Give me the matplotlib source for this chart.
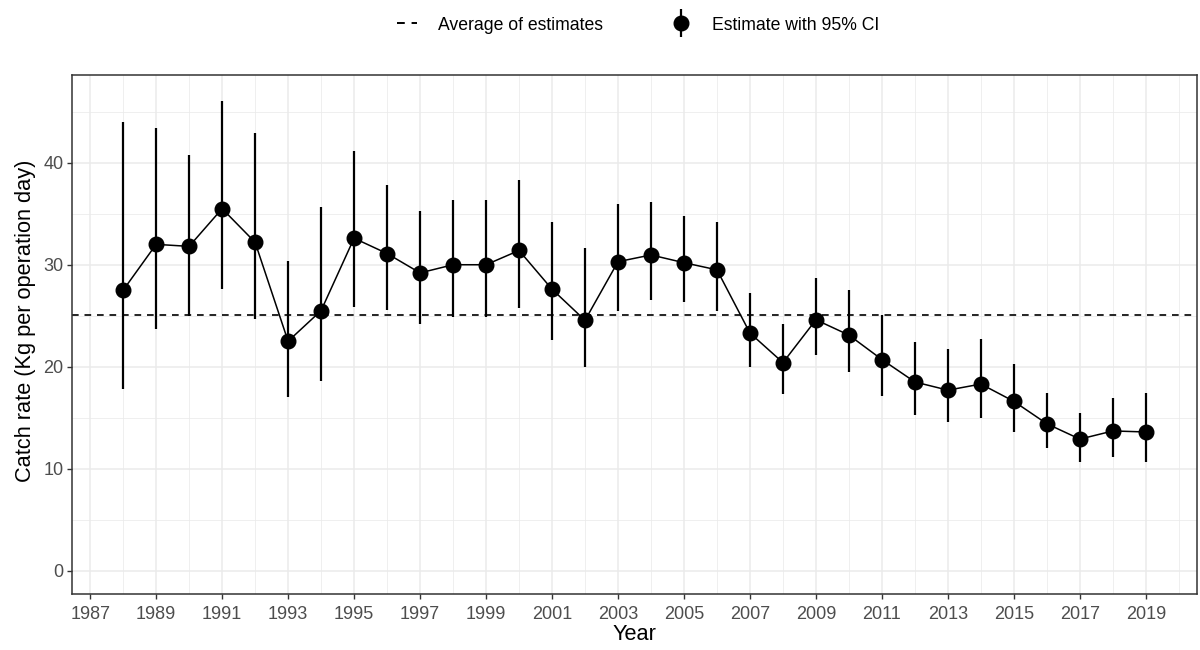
import numpy as np
import matplotlib.pyplot as plt
from matplotlib.lines import Line2D
from matplotlib.legend_handler import HandlerTuple
from matplotlib.ticker import MultipleLocator

plt.rcParams['font.family'] = ['Liberation Sans', 'DejaVu Sans']

# yearly catch-rate estimates with 95% confidence bounds
years = list(range(1988, 2020))
estimate = [27.5, 32.0, 31.8, 35.5, 32.2, 22.5, 25.5, 32.6, 31.1, 29.2, 30.0, 30.0,
            31.4, 27.6, 24.55, 30.3, 30.96, 30.2, 29.5, 23.3, 20.4, 24.6, 23.1, 20.7,
            18.5, 17.7, 18.3, 16.6, 14.4, 12.9, 13.7, 13.6]
lower = [17.8, 23.7, 25.0, 27.6, 24.65, 17.0, 18.6, 25.9, 25.6, 24.2, 24.9, 24.9,
         25.8, 22.6, 19.97, 25.5, 26.5, 26.3, 25.5, 20.0, 17.3, 21.1, 19.45, 17.1,
         15.3, 14.6, 14.96, 13.6, 12.0, 10.7, 11.1, 10.7]
upper = [44.0, 43.4, 40.8, 46.1, 42.9, 30.4, 35.7, 41.2, 37.8, 35.3, 36.3, 36.3,
         38.3, 34.2, 31.6, 36.0, 36.2, 34.8, 34.2, 27.2, 24.2, 28.7, 27.5, 25.04,
         22.4, 21.7, 22.7, 20.3, 17.4, 15.5, 16.9, 17.4]

est = np.array(estimate)
yerr = [est - np.array(lower), np.array(upper) - est]
avg = est.mean()

fig = plt.figure(figsize=(12, 6.5), dpi=100)
ax = fig.add_axes([0.06, 0.086, 0.9375, 0.7985])

ax.plot(years, est, color='black', lw=1.1, zorder=3)
ax.errorbar(years, est, yerr=yerr, fmt='o', color='black', ms=10.5,
            elinewidth=1.6, capsize=0, zorder=4)
ax.axhline(avg, color='black', ls=(0, (4, 3.5)), lw=1.2, zorder=2)

ax.set_xlim(1986.45, 2020.55)
ax.set_ylim(-2.3, 48.6)
ax.set_xticks(range(1987, 2020, 2))
ax.xaxis.set_minor_locator(MultipleLocator(1))
ax.yaxis.set_major_locator(MultipleLocator(10))
ax.yaxis.set_minor_locator(MultipleLocator(5))

ax.grid(which='major', color='#EBEBEB', lw=1.1, zorder=0)
ax.grid(which='minor', color='#EBEBEB', lw=0.55, zorder=0)
ax.set_axisbelow(True)
for s in ax.spines.values():
    s.set_color('#333333')
    s.set_linewidth(1.1)
ax.tick_params(which='major', length=3.5, width=1.0, color='#333333',
               labelcolor='#4D4D4D', labelsize=13)
ax.tick_params(axis='x', pad=5)
ax.tick_params(axis='y', pad=2.5)
ax.tick_params(which='minor', length=0)

ax.set_xlabel('Year', fontsize=15.7, labelpad=1)
ax.set_ylabel('Catch rate (Kg per operation day)', fontsize=15.7)
ax.yaxis.set_label_coords(-0.032, 0.526)

# legend keys: dashed line, and a point with a vertical interval through it
avg_key = Line2D([], [], color='black', ls=(0, (4, 3.5)), lw=1.4)
pt_key = (Line2D([], [], color='black', marker='|', ms=20, mew=1.6, ls='none'),
          Line2D([], [], color='black', marker='o', ms=10.5, ls='none'))
fig.legend(handles=[avg_key, pt_key],
           labels=['Average of estimates', 'Estimate with 95% CI'],
           handler_map={tuple: HandlerTuple(ndivide=1)},
           loc='center', bbox_to_anchor=(0.532, 1 - 25 / 650),
           ncol=2, frameon=False, fontsize=12.7, handlelength=1.1,
           columnspacing=3.9, handletextpad=1.2)

fig.savefig('out.png', dpi=100)
